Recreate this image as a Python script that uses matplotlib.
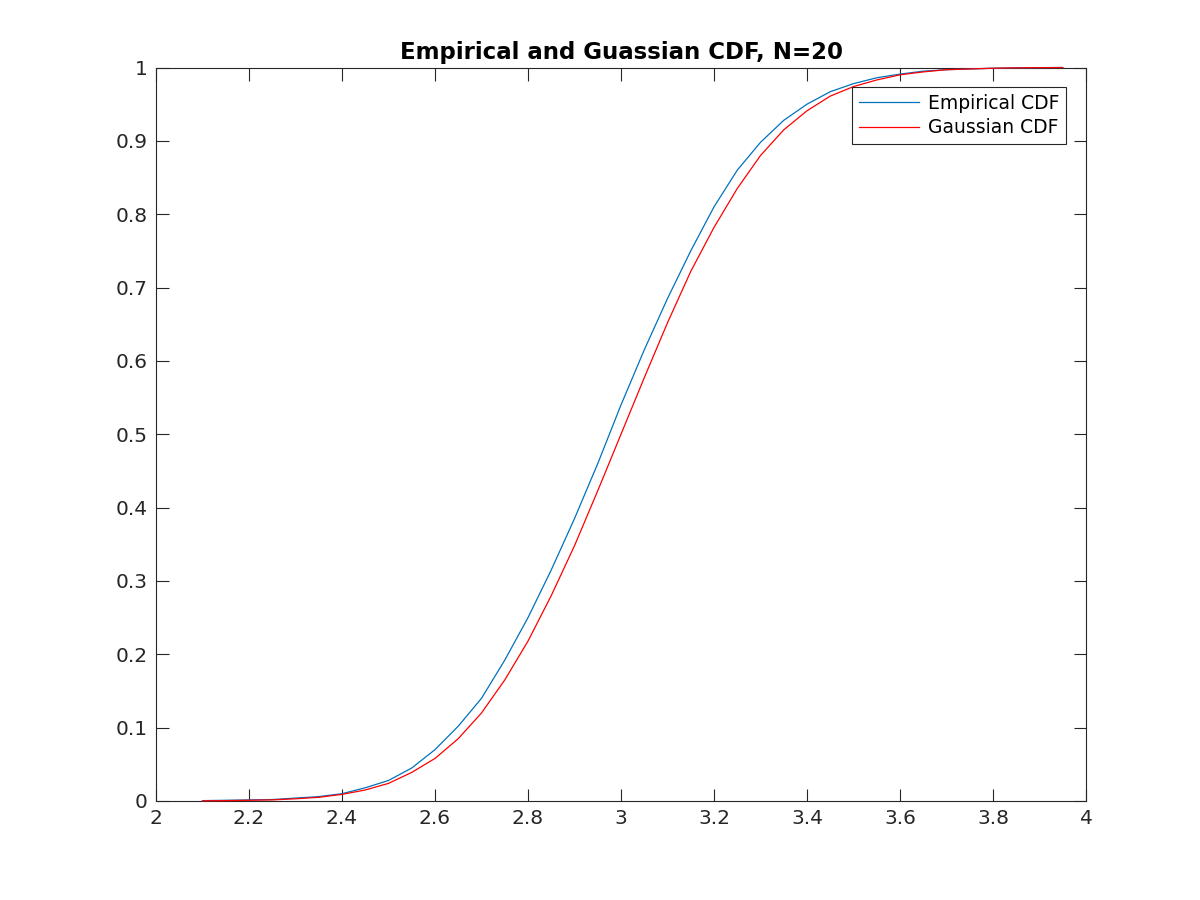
import numpy as np
import matplotlib.pyplot as plt

# =====================================================
# DATA
# =====================================================
x_vals = [2.10, 2.15, 2.20, 2.25, 2.30, 2.35, 2.40, 2.45, 2.50, 2.55,
          2.60, 2.65, 2.70, 2.75, 2.80, 2.85, 2.90, 2.95, 3.00, 3.05,
          3.10, 3.15, 3.20, 3.25, 3.30, 3.35, 3.40, 3.45, 3.50, 3.55,
          3.60, 3.65, 3.70, 3.75, 3.80, 3.85, 3.90, 3.95]

empirical_cdf = [0.0005, 0.001, 0.0015, 0.002, 0.004, 0.006, 0.010, 0.018, 0.028, 0.045,
                 0.070, 0.102, 0.140, 0.192, 0.250, 0.315, 0.385, 0.460, 0.540, 0.615,
                 0.685, 0.750, 0.810, 0.860, 0.898, 0.928, 0.950, 0.967, 0.978, 0.986,
                 0.991, 0.995, 0.997, 0.998, 0.999, 0.9995, 0.9998, 1.0]

gaussian_cdf = [0.0002, 0.0005, 0.001, 0.0015, 0.003, 0.005, 0.009, 0.015, 0.024, 0.039,
                0.058, 0.085, 0.120, 0.165, 0.218, 0.280, 0.348, 0.423, 0.500, 0.577,
                0.652, 0.722, 0.782, 0.835, 0.880, 0.915, 0.941, 0.961, 0.974, 0.983,
                0.990, 0.994, 0.997, 0.998, 0.999, 0.9995, 0.9998, 0.9999]

x_ticks = [2, 2.2, 2.4, 2.6, 2.8, 3, 3.2, 3.4, 3.6, 3.8, 4]
x_tick_labels = ["2", "2.2", "2.4", "2.6", "2.8", "3", "3.2", "3.4", "3.6", "3.8", "4"]
y_ticks = [0, 0.1, 0.2, 0.3, 0.4, 0.5, 0.6, 0.7, 0.8, 0.9, 1]
y_tick_labels = ["0", "0.1", "0.2", "0.3", "0.4", "0.5", "0.6", "0.7", "0.8", "0.9", "1"]

# =====================================================
# PLOT
# =====================================================
plt.rcParams["font.family"] = ["DejaVu Sans"]

fig = plt.figure(figsize=(12, 9), dpi=100)
ax = fig.add_axes([0.13, 0.11, 0.775, 0.815])

ax.plot(x_vals, empirical_cdf, color="#0072BD", linewidth=0.9,
        label="Empirical CDF", clip_on=False, zorder=3)
ax.plot(x_vals, gaussian_cdf, color="#FF0000", linewidth=0.9,
        label="Gaussian CDF", clip_on=False, zorder=3)

ax.set_xlim(2, 4)
ax.set_ylim(0, 1)
ax.set_xticks(x_ticks)
ax.set_xticklabels(x_tick_labels)
ax.set_yticks(y_ticks)
ax.set_yticklabels(y_tick_labels)

ax.tick_params(direction="in", top=True, right=True, length=9, width=0.8,
               labelsize=14.5, colors="#262626", pad=6)
for spine in ax.spines.values():
    spine.set_linewidth(0.8)
    spine.set_color("#262626")

ax.set_title("Empirical and Guassian CDF, N=20", fontsize=16.5, fontweight="bold", pad=6)

leg = ax.legend(loc="upper right", fontsize=13.5, fancybox=False, framealpha=1,
                edgecolor="#262626", borderpad=0.35, handlelength=3.2,
                handletextpad=0.5, borderaxespad=1.05, labelspacing=0.3)
leg.get_frame().set_linewidth(0.8)

fig.savefig("out.png", dpi=100)
plt.close(fig)
